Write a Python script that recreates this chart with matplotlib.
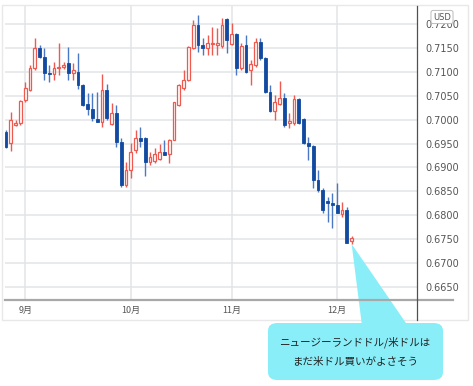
import numpy as np
import pandas as pd
import matplotlib
matplotlib.use("Agg")
import matplotlib.pyplot as plt
from matplotlib.patches import FancyBboxPatch, Polygon, Rectangle
from matplotlib.lines import Line2D

plt.rcParams['font.family'] = ['Noto Sans CJK JP', 'DejaVu Sans']

# NZD/USD daily candles, 2021-08-26 .. 2021-12-06
dates = pd.bdate_range('2021-08-26', '2021-12-06')
opens = [0.6974, 0.6951, 0.6989, 0.6993, 0.7041, 0.7062, 0.7108, 0.7150, 0.7131, 0.7098,
         0.7096, 0.7107, 0.7110, 0.7118, 0.7097, 0.7099, 0.7072, 0.7033, 0.7022, 0.7001,
         0.6995, 0.7062, 0.6991, 0.7014, 0.6953, 0.6863, 0.6895, 0.6936, 0.6961, 0.6961,
         0.6911, 0.6914, 0.6918, 0.6932, 0.6927, 0.6957, 0.7031, 0.7066, 0.7083, 0.7150,
         0.7198, 0.7156, 0.7150, 0.7158, 0.7156, 0.7153, 0.7210, 0.7158, 0.7179, 0.7108,
         0.7156, 0.7104, 0.7114, 0.7162, 0.7129, 0.7058, 0.7018, 0.7033, 0.7045, 0.6993,
         0.6993, 0.7043, 0.7001, 0.6951, 0.6945, 0.6874, 0.6853, 0.6830, 0.6826, 0.6821,
         0.6803, 0.6811, 0.6745]
highs = [0.6978, 0.7016, 0.6999, 0.7041, 0.7079, 0.7114, 0.7171, 0.7156, 0.7150, 0.7115,
         0.7121, 0.7160, 0.7120, 0.7152, 0.7118, 0.7139, 0.7075, 0.7056, 0.7056, 0.7058,
         0.7095, 0.7074, 0.7035, 0.7030, 0.6961, 0.6912, 0.6951, 0.6978, 0.6985, 0.6963,
         0.6932, 0.6940, 0.6949, 0.6957, 0.6959, 0.7036, 0.7074, 0.7104, 0.7154, 0.7208,
         0.7219, 0.7171, 0.7177, 0.7194, 0.7192, 0.7213, 0.7213, 0.7202, 0.7181, 0.7160,
         0.7177, 0.7125, 0.7171, 0.7171, 0.7131, 0.7073, 0.7052, 0.7081, 0.7056, 0.7014,
         0.7052, 0.7045, 0.7003, 0.6964, 0.6947, 0.6895, 0.6857, 0.6838, 0.6846, 0.6867,
         0.6828, 0.6817, 0.6757]
lows = [0.6941, 0.6934, 0.6987, 0.6989, 0.7037, 0.7060, 0.7104, 0.7129, 0.7083, 0.7079,
        0.7083, 0.7093, 0.7105, 0.7083, 0.7083, 0.7065, 0.7029, 0.7010, 0.6998, 0.6995,
        0.6985, 0.6999, 0.6989, 0.6943, 0.6859, 0.6859, 0.6878, 0.6930, 0.6943, 0.6883,
        0.6905, 0.6909, 0.6916, 0.6926, 0.6910, 0.6957, 0.7029, 0.7062, 0.7081, 0.7148,
        0.7141, 0.7135, 0.7135, 0.7135, 0.7135, 0.7150, 0.7140, 0.7156, 0.7093, 0.7104,
        0.7098, 0.7072, 0.7110, 0.7125, 0.7056, 0.7016, 0.7000, 0.7031, 0.6985, 0.6983,
        0.6989, 0.6991, 0.6949, 0.6916, 0.6857, 0.6849, 0.6805, 0.6786, 0.6773, 0.6805,
        0.6797, 0.6742, 0.6740]
closes = [0.6943, 0.6999, 0.6993, 0.7039, 0.7066, 0.7108, 0.7150, 0.7131, 0.7097, 0.7096,
          0.7108, 0.7110, 0.7115, 0.7097, 0.7104, 0.7072, 0.7031, 0.7022, 0.7003, 0.6995,
          0.7062, 0.7003, 0.7014, 0.6953, 0.6863, 0.6895, 0.6932, 0.6961, 0.6955, 0.6911,
          0.6922, 0.6928, 0.6932, 0.6926, 0.6957, 0.7036, 0.7072, 0.7083, 0.7152, 0.7198,
          0.7156, 0.7150, 0.7160, 0.7160, 0.7160, 0.7198, 0.7167, 0.7179, 0.7108, 0.7154,
          0.7100, 0.7116, 0.7162, 0.7129, 0.7058, 0.7018, 0.7037, 0.7045, 0.6989, 0.6997,
          0.7043, 0.6993, 0.6951, 0.6945, 0.6874, 0.6853, 0.6811, 0.6826, 0.6821, 0.6805,
          0.6811, 0.6742, 0.6752]
y_ticks = [0.6650, 0.6700, 0.6750, 0.6800, 0.6850, 0.6900, 0.6950,
           0.7000, 0.7050, 0.7100, 0.7150, 0.7200]
note_lines = ['ニュージーランドドル/米ドルは', 'まだ米ドル買いがよさそう']

W, H = 473, 386
fig = plt.figure(figsize=(W / 100, H / 100), dpi=100)


def fx(px):
    return px / W


def fy(py):
    return 1 - py / H


ax = fig.add_axes([fx(5), fy(300), fx(417) - fx(5), fy(6) - fy(300)])

x = np.arange(len(dates))
o = np.array(opens)
c = np.array(closes)
up = c >= o

red = '#ef5a50'
blue_body = '#124aa0'
blue_wick = '#4a78c4'

ax.vlines(x[up], np.array(lows)[up], np.array(highs)[up], color=red, lw=1, zorder=2)
ax.vlines(x[~up], np.array(lows)[~up], np.array(highs)[~up], color=blue_wick, lw=1, zorder=2)
body_h = np.maximum(np.abs(c - o), 0.00012)
body_b = np.minimum(o, c)
ax.bar(x[up], body_h[up], bottom=body_b[up], width=0.62, facecolor='white',
       edgecolor=red, lw=0.9, zorder=3)
ax.bar(x[~up], body_h[~up], bottom=body_b[~up], width=0.62, facecolor=blue_body,
       edgecolor=blue_body, lw=0.6, zorder=3)

ax.set_xlim(-0.21, -0.21 + 412 / 4.8)
ax.set_ylim(0.72 - 276 / 4780, 0.72 + 18 / 4780)

# month ticks at the first trading day of each month
month_idx = [i for i in range(1, len(dates)) if dates[i].month != dates[i - 1].month]
ax.set_xticks(month_idx)
ax.set_xticklabels([f'{dates[i].month}月' for i in month_idx], fontsize=6.5, color='#555555')
ax.set_yticks(y_ticks)
ax.set_yticklabels([f'{v:.4f}' for v in y_ticks], fontsize=7, color='#555555',
                   family=['DejaVu Sans'])
ax.yaxis.tick_right()
ax.tick_params(axis='y', length=0, pad=6)
ax.tick_params(axis='x', length=0, pad=4)
ax.grid(True, color='#e2e4e7', lw=1.1)
ax.set_axisbelow(True)
for s in ax.spines.values():
    s.set_visible(False)

# panel frame and scale separators
fig.patches.append(Rectangle((fx(2), fy(320)), fx(468) - fx(2), fy(5) - fy(320),
                             transform=fig.transFigure, fill=False, ec='#e8e8e8', lw=1))
fig.lines.append(Line2D([fx(5), fx(453)], [fy(300), fy(300)], transform=fig.transFigure,
                        color='#a8a8a8', lw=1.6))
fig.lines.append(Line2D([fx(417), fx(417)], [fy(6), fy(320)], transform=fig.transFigure,
                        color='#505050', lw=0.9))

fig.text(fx(442), fy(17), 'USD', fontsize=6, color='#555555', ha='center', va='center',
         family=['DejaVu Sans'],
         bbox=dict(boxstyle='round,pad=0.25', fc='white', ec='#bbbbbb', lw=0.7), zorder=10)

# callout
cyan = '#8aeef9'
tip = fig.transFigure.inverted().transform(ax.transData.transform((72, lows[-1])))
fig.patches.append(Polygon([tip, (fx(362), fy(326)), (fx(408), fy(326))], closed=True,
                           transform=fig.transFigure, fc=cyan, ec='none'))
fig.patches.append(FancyBboxPatch((fx(268), fy(380)), fx(443) - fx(268), fy(323) - fy(380),
                                  boxstyle='round,pad=0,rounding_size=0.02',
                                  transform=fig.transFigure, fc=cyan, ec='none'))
fig.text(fx(355), fy(342), note_lines[0], fontsize=7.6, color='#222222', ha='center', va='center')
fig.text(fx(355), fy(362), note_lines[1], fontsize=7.6, color='#222222', ha='center', va='center')

fig.savefig('out.png', dpi=100)
